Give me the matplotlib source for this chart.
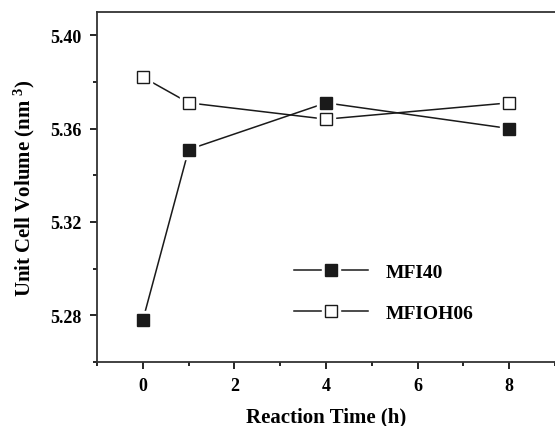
import matplotlib

matplotlib.use("Agg")
import matplotlib.pyplot as plt
from matplotlib.lines import Line2D
from matplotlib.ticker import MultipleLocator

# values
time_h = [0, 1, 4, 8]
mfi40 = [5.278, 5.351, 5.371, 5.360]
mfioh06 = [5.382, 5.371, 5.364, 5.371]

plt.rcParams["font.family"] = ["Liberation Serif", "DejaVu Serif"]
plt.rcParams["font.weight"] = "bold"
plt.rcParams["mathtext.fontset"] = "custom"
plt.rcParams["mathtext.rm"] = "Liberation Serif:bold"
plt.rcParams["mathtext.bf"] = "Liberation Serif:bold"
plt.rcParams["mathtext.default"] = "bf"

fig = plt.figure(figsize=(5.55, 4.27), dpi=100)
ax = fig.add_axes([0.175, 0.150, 0.825, 0.820])

ms = 8
halo = 13
series = [
    (mfi40, "MFI40", "#1a1a1a"),
    (mfioh06, "MFIOH06", "white"),
]
handles = []
for y, name, face in series:
    ax.plot(time_h, y, "-", color="#1a1a1a", lw=1.1, zorder=2)
    # white halo so the line stops short of each marker
    ax.plot(time_h, y, "s", ms=halo, mfc="white", mec="white", zorder=3)
    ax.plot(time_h, y, "s", ms=ms, mfc=face, mec="#1a1a1a", mew=1.0, zorder=4)
    handles.append((
        Line2D([], [], color="#1a1a1a", lw=1.1),
        Line2D([], [], ls="none", marker="s", ms=halo, mfc="white", mec="white"),
        Line2D([], [], ls="none", marker="s", ms=ms, mfc=face, mec="#1a1a1a", mew=1.0),
    ))

ax.set_xlim(-1, 9)
ax.set_ylim(5.26, 5.41)
ax.xaxis.set_major_locator(MultipleLocator(2))
ax.xaxis.set_minor_locator(MultipleLocator(1))
ax.yaxis.set_major_locator(MultipleLocator(0.04))
ax.yaxis.set_minor_locator(MultipleLocator(0.02))
ax.yaxis.set_major_formatter(plt.FormatStrFormatter("%.2f"))
ax.tick_params(which="major", direction="out", length=5, width=1.2, labelsize=13, pad=6)
ax.tick_params(which="minor", direction="out", length=3, width=1.2)
ax.spines["right"].set_visible(False)
for s in ("left", "bottom", "top"):
    ax.spines[s].set_linewidth(1.3)
    ax.spines[s].set_color("#333333")

ax.set_xlabel("Reaction Time (h)", fontsize=15, fontweight="bold", labelpad=9)
ax.set_ylabel("Unit Cell Volume (nm$^{\\ 3}$)", fontsize=15, fontweight="bold", labelpad=10)

ax.legend(handles, [s[1] for s in series], loc="center left",
          bbox_to_anchor=(0.43, 0.198), frameon=False, fontsize=14,
          handlelength=3.8, handletextpad=0.9, labelspacing=1.2,
          borderpad=0, borderaxespad=0)

fig.savefig("out.png", dpi=100)
